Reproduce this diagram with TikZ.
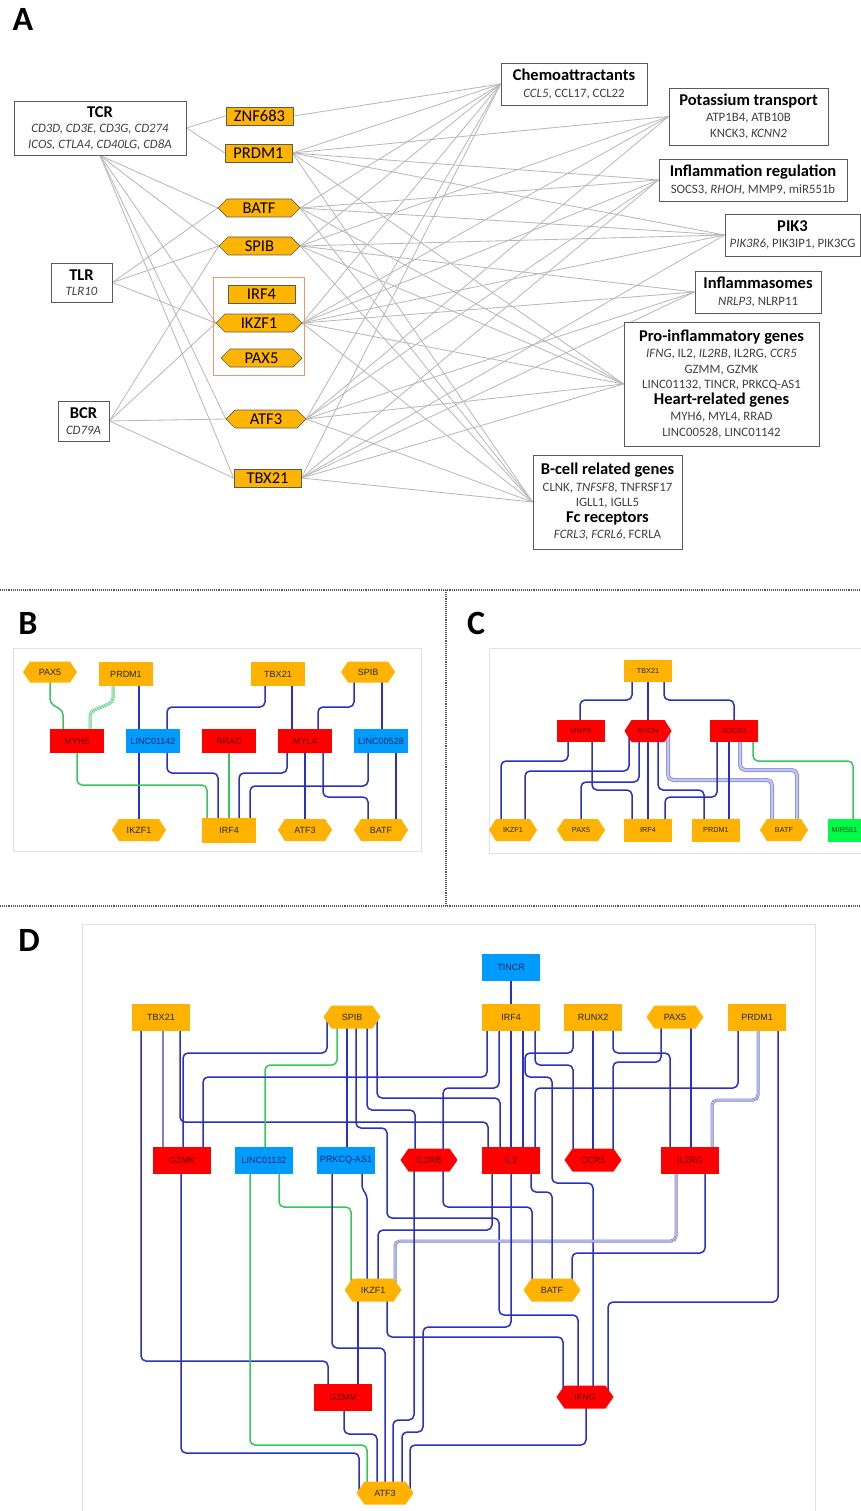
\documentclass[tikz,border=0pt]{standalone}
\usepackage{fontspec}
\setmainfont{Carlito}
\newfontfamily\arialf{Liberation Sans}
\usetikzlibrary{calc}
\pgfdeclarelayer{bg}
\pgfsetlayers{bg,main}
\definecolor{tfA}{RGB}{255,180,0}
\definecolor{tfN}{RGB}{255,179,0}
\definecolor{redN}{RGB}{255,0,0}
\definecolor{blueN}{RGB}{0,155,255}
\definecolor{greenN}{RGB}{0,250,70}
\definecolor{eblue}{RGB}{40,48,200}
\definecolor{egreen}{RGB}{50,200,90}
\definecolor{etrip}{RGB}{120,128,215}
\definecolor{gline}{RGB}{185,185,185}
\definecolor{boxb}{RGB}{90,90,90}
\definecolor{salmon}{RGB}{240,150,110}
\definecolor{framec}{RGB}{225,225,225}
\definecolor{subtxt}{RGB}{64,64,64}
\definecolor{txred}{RGB}{100,0,0}
\definecolor{txblue}{RGB}{0,40,100}
\definecolor{txgreen}{RGB}{0,90,30}
\newcommand\fontB{\arialf\fontsize{9}{10}\selectfont}
\newcommand\fontC{\arialf\fontsize{7.3}{8}\selectfont}
\newcommand\fontD{\arialf\fontsize{9}{10}\selectfont}
\newcommand\cattl[1]{{\fontsize{16.5}{17}\selectfont\bfseries\color{black}#1}}
% name, x, y, w, h, d, fill style, label style, text
\newcommand\hexnode[9]{%
  \path[#7] ({#2-#4/2},#3) -- ({#2-#4/2+#6},{#3-#5/2}) -- ({#2+#4/2-#6},{#3-#5/2}) -- ({#2+#4/2},#3) -- ({#2+#4/2-#6},{#3+#5/2}) -- ({#2-#4/2+#6},{#3+#5/2}) -- cycle;
  \node[#8, minimum width=#4, minimum height=#5, inner sep=0] (#1) at (#2,#3) {#9};}
\begin{document}
\begin{tikzpicture}[x=1pt,y=-1pt,
  plabel/.style={font=\fontsize{34}{34}\selectfont\bfseries, inner sep=0},
  rectA/.style={fill=tfA, draw=boxb, line width=0.7, minimum width=67, minimum height=18, inner sep=0, font=\fontsize{16.5}{17}\selectfont},
  hexA/.style={fill=tfA, draw=boxb, line width=0.7},
  lblA/.style={font=\fontsize{16.5}{17}\selectfont},
  catbox/.style={draw=boxb, line width=0.9, fill=white, align=center, inner sep=0, text=subtxt, font=\fontsize{12.8}{15.5}\selectfont},
  gedge/.style={draw=gline, line width=0.85},
  sepline/.style={draw=black!65, line width=1.1, densely dotted},
  framebox/.style={draw=framec, line width=0.9},
  salmonbox/.style={draw=salmon, line width=0.8},
  boxO/.style={fill=tfN, text=black!85},
  boxR/.style={fill=redN, text=txred},
  boxBl/.style={fill=blueN, text=txblue},
  boxG/.style={fill=greenN, text=txgreen},
  lbO/.style={text=black!85},
  lbR/.style={text=txred},
  szB/.style={inner sep=0, minimum width=54, minimum height=24, font=\fontB},
  szC/.style={inner sep=0, minimum width=48, minimum height=22, font=\fontC},
  szD/.style={inner sep=0, minimum width=58, minimum height=27, font=\fontD},
  edgeblue/.style={draw=eblue, line width=1.5, rounded corners=5},
  edgegreen/.style={draw=egreen, line width=1.5, rounded corners=5},
  edgetrip/.style={draw=etrip, line width=3, rounded corners=5, postaction={draw=white, line width=1.4}, postaction={draw=etrip, line width=0.6}},
  edgetripg/.style={draw=egreen!80, line width=3, rounded corners=5, postaction={draw=white, line width=1.4}, postaction={draw=egreen!80, line width=0.6}},
  edgewide/.style={draw=etrip!85, line width=4, rounded corners=5, postaction={draw=etrip!45, line width=2.2}}
]
\useasboundingbox (0,0) rectangle (861,1511);

% ---------- labels, separators, frames
\node[plabel] (labA) at (23,19) {A};
\node[plabel] (labB) at (28,623) {B};
\node[plabel] (labC) at (476,623) {C};
\node[plabel] (labD) at (29,940) {D};
\draw[sepline] (0,590) -- (861,590);
\draw[sepline] (446,590) -- (446,906);
\draw[sepline] (0,906) -- (861,906);
\draw[framebox] (13,648) rectangle (421,851);
\draw[framebox] (862,648) -- (489,648) -- (489,853) -- (862,853);
\draw[framebox] (82,1513) -- (82,924) -- (815,924) -- (815,1513);

% ---------- Panel A
\node[catbox, minimum width=172, minimum height=54] (atcr) at (100,128) {\cattl{TCR}\\ \textit{CD3D, CD3E, CD3G, CD274}\\ \textit{ICOS, CTLA4, CD40LG, CD8A}};
\node[catbox, minimum width=61, minimum height=39] (atlr) at (81.5,282.5) {\cattl{TLR}\\ \textit{TLR10}};
\node[catbox, minimum width=51, minimum height=40] (abcr) at (83.5,421) {\cattl{BCR}\\ \textit{CD79A}};

\node[rectA] (azn) at (259.5,116) {ZNF683};
\node[rectA] (aprd) at (258.5,153) {PRDM1};
\hexnode{abatf}{259}{208}{82}{18}{9}{hexA}{lblA}{BATF}
\hexnode{aspib}{259.5}{246}{81}{18}{9}{hexA}{lblA}{SPIB}
\draw[salmonbox] (213,277) rectangle (304,375);
\node[rectA] (airf) at (261.5,294) {IRF4};
\hexnode{aikzf}{259}{323}{86}{18}{9}{hexA}{lblA}{IKZF1}
\hexnode{apax}{261.5}{358}{81}{18}{9}{hexA}{lblA}{PAX5}
\hexnode{aatf}{266}{419}{80}{18}{9}{hexA}{lblA}{ATF3}
\node[rectA] (atbx) at (267.5,478) {TBX21};

\node[catbox, minimum width=146, minimum height=42] (achem) at (574,84) {\cattl{Chemoattractants}\\[1pt] \textit{CCL5}, CCL17, CCL22};
\node[catbox, minimum width=159, minimum height=57] (apot) at (748.5,116.5) {\cattl{Potassium transport}\\[1pt] ATP1B4, ATB10B\\ KNCK3, \textit{KCNN2}};
\node[catbox, minimum width=188, minimum height=42] (ainf) at (753,180) {\cattl{Inflammation regulation}\\[1pt] SOCS3, \textit{RHOH}, MMP9, miR551b};
\node[catbox, minimum width=135, minimum height=42] (apik) at (792.5,235) {\cattl{PIK3}\\[1pt] \textit{PIK3R6}, PIK3IP1, PIK3CG};
\node[catbox, minimum width=126, minimum height=42] (aflam) at (758,292) {\cattl{Inflammasomes}\\[1pt] \textit{NRLP3}, NLRP11};
\node[catbox, minimum width=195, minimum height=124] (apro) at (721.5,384) {\cattl{Pro-inflammatory genes}\\[1pt] \textit{IFNG}, IL2, \textit{IL2RB}, IL2RG, \textit{CCR5}\\ GZMM, GZMK\\ LINC01132, TINCR, PRKCQ-AS1\\ \cattl{Heart-related genes}\\[1pt] MYH6, MYL4, RRAD\\ LINC00528, LINC01142};
\node[catbox, minimum width=149, minimum height=94] (abcell) at (607.5,502) {\cattl{B-cell related genes}\\[1pt] CLNK, \textit{TNFSF8}, TNFRSF17\\ IGLL1, IGLL5\\ \cattl{Fc receptors}\\[1pt] \textit{FCRL3, FCRL6}, FCRLA};

% ---------- Panel B
\hexnode{bpax}{50}{672}{54}{21}{7}{boxO}{lbO,font=\fontB}{PAX5}
\node[szB, boxO] (bprdm) at (126,674) {PRDM1};
\node[szB, boxO] (btbx) at (278,674) {TBX21};
\hexnode{bspib}{368}{672}{54}{21}{7}{boxO}{lbO,font=\fontB}{SPIB}
\node[szB, boxR] (bmyh) at (77,741) {MYH6};
\node[szB, boxBl] (blinc42) at (153,741) {LINC01142};
\node[szB, boxR] (brrad) at (229,741) {RRAD};
\node[szB, boxR] (bmyl) at (305,741) {MYL4};
\node[szB, boxBl] (blinc28) at (381,741) {LINC00528};
\hexnode{bikzf}{139}{830}{54}{22}{7}{boxO}{lbO,font=\fontB}{IKZF1}
\node[szB, boxO, minimum height=25] (birf) at (229,830) {IRF4};
\hexnode{batf}{305}{830}{54}{22}{7}{boxO}{lbO,font=\fontB}{ATF3}
\hexnode{bbatf}{381}{830}{54}{22}{7}{boxO}{lbO,font=\fontB}{BATF}

% ---------- Panel C
\node[szC, boxO] (ctbx) at (648,671) {TBX21};
\node[szC, boxR] (cmmp) at (581,731) {MMP9};
\hexnode{crhoh}{648}{731}{47}{22}{7}{boxR}{lbR,font=\fontC}{RHOH}
\node[szC, boxR] (csocs) at (734,731) {SOCS3};
\hexnode{cikzf}{513}{830}{48}{22}{7}{boxO}{lbO,font=\fontC}{IKZF1}
\hexnode{cpax}{581}{830}{48}{22}{7}{boxO}{lbO,font=\fontC}{PAX5}
\node[szC, boxO, minimum height=23] (cirf) at (648,830) {IRF4};
\node[szC, boxO, minimum height=23] (cprdm) at (716,830) {PRDM1};
\hexnode{cbatf}{784}{830}{48}{22}{7}{boxO}{lbO,font=\fontC}{BATF}
\node[szC, boxG, minimum width=33, minimum height=23] (cmir) at (844.5,830) {MIR551};

% ---------- Panel D
\node[szD, boxBl] (dtincr) at (511,967) {TINCR};
\node[szD, boxO] (dtbx) at (161,1017) {TBX21};
\hexnode{dspib}{352}{1017}{57}{23}{8}{boxO}{lbO,font=\fontD}{SPIB}
\node[szD, boxO] (dirf) at (511,1017) {IRF4};
\node[szD, boxO] (drunx) at (593,1017) {RUNX2};
\hexnode{dpax}{675}{1017}{57}{23}{8}{boxO}{lbO,font=\fontD}{PAX5}
\node[szD, boxO] (dprdm) at (757,1017) {PRDM1};
\node[szD, boxR] (dgzmk) at (182,1160) {GZMK};
\node[szD, boxBl] (dlinc) at (264,1160) {LINC01132};
\node[szD, boxBl] (dprk) at (346,1160) {PRKCQ-AS1};
\hexnode{dil2rb}{429}{1160}{57}{23}{8}{boxR}{lbR,font=\fontD}{IL2RB}
\node[szD, boxR] (dil2) at (511,1160) {IL2};
\hexnode{dccr}{593}{1160}{57}{23}{8}{boxR}{lbR,font=\fontD}{CCR5}
\node[szD, boxR] (dil2rg) at (690,1160) {IL2RG};
\hexnode{dikzf}{373}{1290}{57}{23}{8}{boxO}{lbO,font=\fontD}{IKZF1}
\hexnode{dbatf}{552}{1290}{57}{23}{8}{boxO}{lbO,font=\fontD}{BATF}
\node[szD, boxR] (dgzmm) at (343,1397) {GZMM};
\hexnode{difng}{585}{1397}{57}{23}{8}{boxR}{lbR,font=\fontD}{IFNG}
\hexnode{datf}{385}{1493}{57}{23}{8}{boxO}{lbO,font=\fontD}{ATF3}

% ---------- connectors (background layer)
\begin{pgfonlayer}{bg}
% Panel A
\draw[gedge] (atcr.east) -- (azn.west);
\draw[gedge] (atcr.east) -- (aprd.west);
\foreach \b in {abatf,aspib,aikzf,aatf,atbx} \draw[gedge] (atcr.south) -- (\b.west);
\foreach \b in {abatf,aspib,aikzf} \draw[gedge] (atlr.east) -- (\b.west);
\foreach \b in {aspib,aikzf,aatf,atbx} \draw[gedge] (abcr.east) -- (\b.west);
\foreach \a/\b in {azn/achem, aprd/achem, aprd/apot, aprd/ainf, aprd/apik, aprd/apro, aprd/abcell,
  abatf/achem, abatf/ainf, abatf/apik, abatf/apro, abatf/abcell,
  aspib/achem, aspib/apot, aspib/apik, aspib/aflam, aspib/apro, aspib/abcell,
  aikzf/achem, aikzf/apot, aikzf/ainf, aikzf/apik, aikzf/aflam, aikzf/apro, aikzf/abcell,
  aatf/achem, aatf/apot, aatf/ainf, aatf/aflam, aatf/apro, aatf/abcell,
  atbx/achem, atbx/ainf, atbx/apik, atbx/aflam, atbx/apro, atbx/abcell}
  \draw[gedge] (\a.east) -- (\b.west);

% Panel B
\draw[edgegreen, rounded corners=4] (bpax.center -| 50,0) -- (50,703) -- (63,711) -- (bmyh.center -| 63,0);
\draw[edgetripg, rounded corners=4] (bprdm.center -| 113,0) -- (113,702) -- (90,712) -- (bmyh.center -| 90,0);
\draw[edgeblue] (bprdm.center -| 139,0) -- (blinc42.center -| 139,0);
\draw[edgeblue] (blinc42.center -| 139,0) -- (bikzf.center -| 139,0);
\draw[edgeblue] (btbx.center -| 265,0) -- (265,707) -- (167,707) -- (blinc42.center -| 167,0);
\draw[edgeblue] (btbx.center -| 292,0) -- (bmyl.center -| 292,0);
\draw[edgeblue] (bspib.center -| 354,0) -- (354,707) -- (318,707) -- (bmyl.center -| 318,0);
\draw[edgeblue] (bspib.center -| 382,0) -- (blinc28.center -| 382,0);
\draw[edgegreen] (bmyh.center -| 77,0) -- (77,785) -- (207,785) -- (birf.center -| 207,0);
\draw[edgeblue] (blinc42.center -| 167,0) -- (167,773) -- (218,773) -- (birf.center -| 218,0);
\draw[edgegreen] (brrad.center) -- (birf.center);
\draw[edgeblue] (bmyl.center -| 287,0) -- (287,773) -- (239,773) -- (birf.center -| 239,0);
\draw[edgeblue] (blinc28.center -| 368,0) -- (368,786) -- (250,786) -- (birf.center -| 250,0);
\draw[edgeblue] (bmyl.center -| 305,0) -- (batf.center -| 305,0);
\draw[edgeblue] (bmyl.center -| 323,0) -- (323,797) -- (368,797) -- (bbatf.center -| 368,0);
\draw[edgeblue] (blinc28.center -| 396,0) -- (bbatf.center -| 396,0);

% Panel C
\draw[edgeblue] (ctbx.center -| 632,0) -- (632,700) -- (580,700) -- (cmmp.center -| 580,0);
\draw[edgeblue] (ctbx.center) -- (crhoh.center);
\draw[edgeblue] (crhoh.center) -- (cirf.center);
\draw[edgeblue] (ctbx.center -| 664,0) -- (664,700) -- (734,700) -- (csocs.center -| 734,0);
\draw[edgeblue] (cmmp.center -| 568,0) -- (568,761) -- (501,761) -- (cikzf.center -| 501,0);
\draw[edgeblue] (cmmp.center -| 592,0) -- (592,790) -- (632,790) -- (cirf.center -| 632,0);
\draw[edgeblue] (crhoh.center -| 629,0) -- (629,771) -- (525,771) -- (cikzf.center -| 525,0);
\draw[edgeblue] (crhoh.center -| 639,0) -- (639,782) -- (581,782) -- (cpax.center -| 581,0);
\draw[edgeblue] (crhoh.center -| 658,0) -- (658,790) -- (704,790) -- (cprdm.center -| 704,0);
\draw[edgewide] (crhoh.center -| 668,0) -- (668,780) -- (772,780) -- (cbatf.center -| 772,0);
\draw[edgeblue] (csocs.center -| 717,0) -- (717,797) -- (665,797) -- (cirf.center -| 665,0);
\draw[edgeblue] (csocs.center -| 729,0) -- (cprdm.center -| 729,0);
\draw[edgewide] (csocs.center -| 740,0) -- (740,770) -- (797,770) -- (cbatf.center -| 797,0);
\draw[edgegreen] (csocs.center -| 753,0) -- (753,761) -- (853,761) -- (cmir.center -| 853,0);

% Panel D
\draw[edgeblue] (dtincr.center) -- (dirf.center);
\draw[edgeblue] (dtbx.center -| 141,0) -- (141,1361) -- (328,1361) -- (dgzmm.center -| 328,0);
\draw[edgetrip] (dtbx.center -| 162,0) -- (dgzmk.center -| 162,0);
\draw[edgeblue] (dtbx.center -| 180,0) -- (180,1122) -- (488,1122) -- (dil2.center -| 488,0);
\draw[edgeblue] (dspib.center -| 327,0) -- (327,1053) -- (183,1053) -- (dgzmk.center -| 183,0);
\draw[edgegreen] (dspib.center -| 337,0) -- (337,1065) -- (265,1065) -- (dlinc.center -| 265,0);
\draw[edgeblue] (dspib.center -| 347,0) -- (dprk.center -| 347,0);
\draw[edgeblue] (dspib.center -| 356,0) -- (356,1128) -- (387,1128) -- (387,1218) -- (499,1218) -- (499,1315) -- (578,1315) -- (difng.center -| 578,0);
\draw[edgeblue] (dspib.center -| 367,0) -- (367,1110) -- (415,1110) -- (dil2rb.center -| 415,0);
\draw[edgeblue] (dspib.center -| 377,0) -- (377,1098) -- (500,1098) -- (dil2.center -| 500,0);
\draw[edgeblue] (dirf.center -| 487,0) -- (487,1077) -- (203,1077) -- (dgzmk.center -| 203,0);
\draw[edgeblue] (dirf.center -| 499,0) -- (499,1088) -- (443,1088) -- (dil2rb.center -| 443,0);
\draw[edgeblue] (dirf.center -| 511,0) -- (dil2.center -| 511,0);
\draw[edgeblue] (dirf.center -| 523,0) -- (dil2.center -| 523,0);
\draw[edgeblue] (dirf.center -| 535,0) -- (535,1065) -- (573,1065) -- (dccr.center -| 573,0);
\draw[edgeblue] (drunx.center -| 573,0) -- (573,1053) -- (525,1053) -- (525,1077) -- (552,1077) -- (552,1183) -- (593,1183) -- (difng.center -| 593,0);
\draw[edgeblue] (drunx.center -| 593,0) -- (dccr.center -| 593,0);
\draw[edgeblue] (drunx.center -| 613,0) -- (613,1053) -- (670,1053) -- (dil2rg.center -| 670,0);
\draw[edgeblue] (dpax.center -| 661,0) -- (661,1062) -- (613,1062) -- (dccr.center -| 613,0);
\draw[edgeblue] (dpax.center -| 691,0) -- (dil2rg.center -| 691,0);
\draw[edgeblue] (dprdm.center -| 738,0) -- (738,1088) -- (535,1088) -- (dil2.center -| 535,0);
\draw[edgetrip] (dprdm.center -| 758,0) -- (758,1100) -- (712,1100) -- (dil2rg.center -| 712,0);
\draw[edgeblue] (dprdm.center -| 778,0) -- (778,1302) -- (608,1302) -- (difng.center -| 608,0);
\draw[edgeblue] (dgzmk.center -| 181,0) -- (181,1453) -- (359,1453) -- (datf.center -| 359,0);
\draw[edgegreen] (dlinc.center -| 250,0) -- (250,1445) -- (367,1445) -- (datf.center -| 367,0);
\draw[edgegreen] (dlinc.center -| 279,0) -- (279,1207) -- (351,1207) -- (dikzf.center -| 351,0);
\draw[edgeblue] (dprk.center -| 332,0) -- (332,1348) -- (385,1348) -- (datf.center -| 385,0);
\draw[edgeblue, rounded corners=3] (dprk.center -| 362,0) -- (362,1188) -- (367,1196) -- (dikzf.center -| 367,0);
\draw[edgeblue] (dil2.center -| 492,0) -- (492,1230) -- (378,1230) -- (dikzf.center -| 378,0);
\draw[edgetrip] (dil2rg.center -| 676,0) -- (676,1241) -- (395,1241) -- (dikzf.center -| 395,0);
\draw[edgeblue] (dikzf.center -| 358,0) -- (dgzmm.center -| 358,0);
\draw[edgeblue] (dikzf.center -| 387,0) -- (387,1337) -- (563,1337) -- (difng.center -| 563,0);
\draw[edgeblue] (dgzmm.center -| 344,0) -- (344,1434) -- (377,1434) -- (datf.center -| 377,0);
\draw[edgeblue] (dil2rb.center -| 414,0) -- (414,1420) -- (393,1420) -- (datf.center -| 393,0);
\draw[edgeblue] (dil2.center -| 511,0) -- (511,1327) -- (423,1327) -- (423,1432) -- (402,1432) -- (datf.center -| 402,0);
\draw[edgeblue] (dil2.center -| 531,0) -- (531,1192) -- (552,1192) -- (dbatf.center -| 552,0);
\draw[edgeblue] (dil2rb.center -| 443,0) -- (443,1207) -- (532,1207) -- (dbatf.center -| 532,0);
\draw[edgeblue] (dil2rg.center -| 705,0) -- (705,1253) -- (572,1253) -- (dbatf.center -| 572,0);
\draw[edgeblue] (difng.center -| 586,0) -- (586,1445) -- (410,1445) -- (datf.center -| 410,0);
\end{pgfonlayer}
\end{tikzpicture}
\end{document}
